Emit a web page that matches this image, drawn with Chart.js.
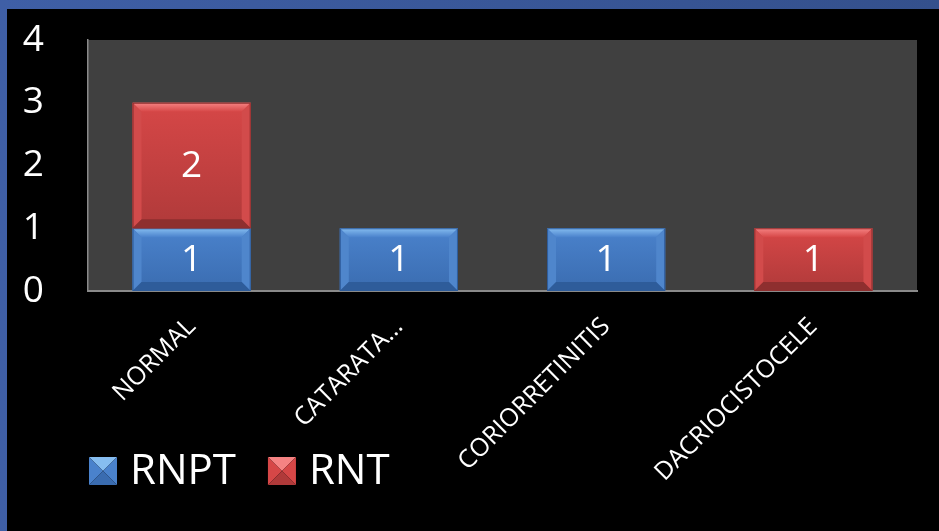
<!DOCTYPE html>
<html>
<head>
<meta charset="utf-8">
<script src="https://cdn.jsdelivr.net/npm/chart.js@4/dist/chart.umd.min.js"></script>
<style>
  html, body { margin: 0; padding: 0; background: #000; }
  #wrap { width: 939px; height: 531px; }
</style>
</head>
<body>
<div id="wrap"><canvas id="chart" width="939" height="531"></canvas></div>
<script>
const categories = ['NORMAL', 'CATARATA…', 'CORIORRETINITIS', 'DACRIOCISTOCELE'];
const rnpt = [1, 1, 1, 0];
const rnt = [2, 0, 0, 1];
const yTicks = [0, 1, 2, 3, 4];

const FONT = '"Open Sans", sans-serif';

const palette = {
    RNPT: { main: '#4a82cc', top: '#86bdf0', side: '#4f86cc', bottom: '#3a6cb0', dark: '#2e5c9a' },
    RNT:  { main: '#d64747', top: '#f58383', side: '#d24b4b', bottom: '#b03a3a', dark: '#8e2f2f' }
};

// slide backdrop: blue frame, black page, grey plot area
const backdrop = {
    id: 'backdrop',
    beforeDraw(chart) {
        const { ctx, chartArea: a, width, height } = chart;
        ctx.save();
        const g = ctx.createLinearGradient(0, 0, width, 0);
        g.addColorStop(0, '#3f5fa6');
        g.addColorStop(1, '#34508c');
        ctx.fillStyle = g;
        ctx.fillRect(0, 0, width, height);
        ctx.fillStyle = '#000';
        ctx.fillRect(7, 9, width - 7, height - 9);
        ctx.fillStyle = '#404040';
        ctx.fillRect(a.left, a.top, a.right - a.left, a.bottom - a.top);
        ctx.restore();
    }
};

function polygon(ctx, pts, col) {
    ctx.beginPath();
    ctx.moveTo(pts[0][0], pts[0][1]);
    for (let k = 1; k < pts.length; k++) ctx.lineTo(pts[k][0], pts[k][1]);
    ctx.closePath();
    ctx.fillStyle = col;
    ctx.fill();
}

// bevelled bars and value labels
const bevel = {
    id: 'bevel',
    afterDatasetsDraw(chart) {
        const ctx = chart.ctx;
        chart.data.datasets.forEach((ds, di) => {
            const meta = chart.getDatasetMeta(di);
            const c = palette[ds.label];
            meta.data.forEach((bar, i) => {
                const v = ds.data[i];
                if (!v) return;
                const p = bar.getProps(['x', 'y', 'base', 'width'], true);
                const l = p.x - p.width / 2, r = p.x + p.width / 2;
                const t = Math.min(p.y, p.base), b = Math.max(p.y, p.base);
                const e = 9;
                ctx.save();
                const g = ctx.createLinearGradient(0, t, 0, b);
                g.addColorStop(0, c.main);
                g.addColorStop(1, c.bottom);
                ctx.fillStyle = g;
                ctx.fillRect(l, t, r - l, b - t);
                const tg = ctx.createLinearGradient(0, t, 0, t + e);
                tg.addColorStop(0, c.top);
                tg.addColorStop(1, c.main);
                polygon(ctx, [[l, t], [r, t], [r - e, t + e], [l + e, t + e]], tg);
                polygon(ctx, [[l, t], [l + e, t + e], [l + e, b - e], [l, b]], c.side);
                polygon(ctx, [[r, t], [r, b], [r - e, b - e], [r - e, t + e]], c.side);
                polygon(ctx, [[l, b], [l + e, b - e], [r - e, b - e], [r, b]], c.dark);
                ctx.strokeStyle = c.dark;
                ctx.lineWidth = 1;
                ctx.strokeRect(l + 0.5, t + 0.5, r - l - 1, b - t - 1);
                ctx.fillStyle = '#ffffff';
                ctx.font = '37px ' + FONT;
                ctx.textAlign = 'center';
                ctx.textBaseline = 'middle';
                ctx.fillText(String(v), p.x, (t + b) / 2 + 1);
                ctx.restore();
            });
        });
    }
};

// legend row under the chart
const legendRow = {
    id: 'legendRow',
    afterDraw(chart) {
        const ctx = chart.ctx;
        ctx.save();
        ctx.font = '42px ' + FONT;
        ctx.textBaseline = 'alphabetic';
        ctx.textAlign = 'left';
        let x = 89;
        const y = 457, s = 28, m = 14;
        chart.data.datasets.forEach(ds => {
            const c = palette[ds.label];
            polygon(ctx, [[x, y], [x + s, y], [x + m, y + m]], c.top);
            polygon(ctx, [[x, y], [x + m, y + m], [x, y + s]], c.main);
            polygon(ctx, [[x + s, y], [x + s, y + s], [x + m, y + m]], c.main);
            polygon(ctx, [[x, y + s], [x + m, y + m], [x + s, y + s]], c.bottom);
            ctx.fillStyle = '#ffffff';
            ctx.fillText(ds.label, x + s + 13, y + 27);
            x += s + 13 + ctx.measureText(ds.label).width + 32;
        });
        ctx.restore();
    }
};

new Chart(document.getElementById('chart'), {
    type: 'bar',
    data: {
        labels: categories,
        datasets: [
            { label: 'RNPT', data: rnpt, backgroundColor: 'rgba(0,0,0,0)', stack: 's',
              categoryPercentage: 1, barPercentage: 0.57 },
            { label: 'RNT', data: rnt, backgroundColor: 'rgba(0,0,0,0)', stack: 's',
              categoryPercentage: 1, barPercentage: 0.57 }
        ]
    },
    options: {
        responsive: false,
        animation: false,
        events: [],
        layout: { padding: { left: 0, top: 40, right: 22, bottom: 0 } },
        plugins: {
            legend: { display: false },
            tooltip: { enabled: false }
        },
        scales: {
            x: {
                stacked: true,
                afterFit: s => { s.height = 240; },
                grid: { display: false, drawTicks: false },
                border: { display: true, color: '#8a8a8a', width: 2 },
                ticks: {
                    color: '#ffffff',
                    font: { family: FONT, size: 25 },
                    minRotation: 45,
                    maxRotation: 45,
                    autoSkip: false,
                    padding: 21
                }
            },
            y: {
                stacked: true,
                min: 0,
                max: 4,
                afterFit: s => {
                    s.width = 88;
                    s.paddingTop = 0;
                    s.paddingBottom = 0;
                },
                afterBuildTicks: s => { s.ticks = yTicks.map(v => ({ value: v })); },
                grid: { display: false, drawTicks: false },
                border: { display: true, color: '#8a8a8a', width: 1.5 },
                ticks: {
                    color: '#ffffff',
                    font: { family: FONT, size: 37 },
                    padding: 44
                }
            }
        }
    },
    plugins: [backdrop, bevel, legendRow]
});
</script>
</body>
</html>
